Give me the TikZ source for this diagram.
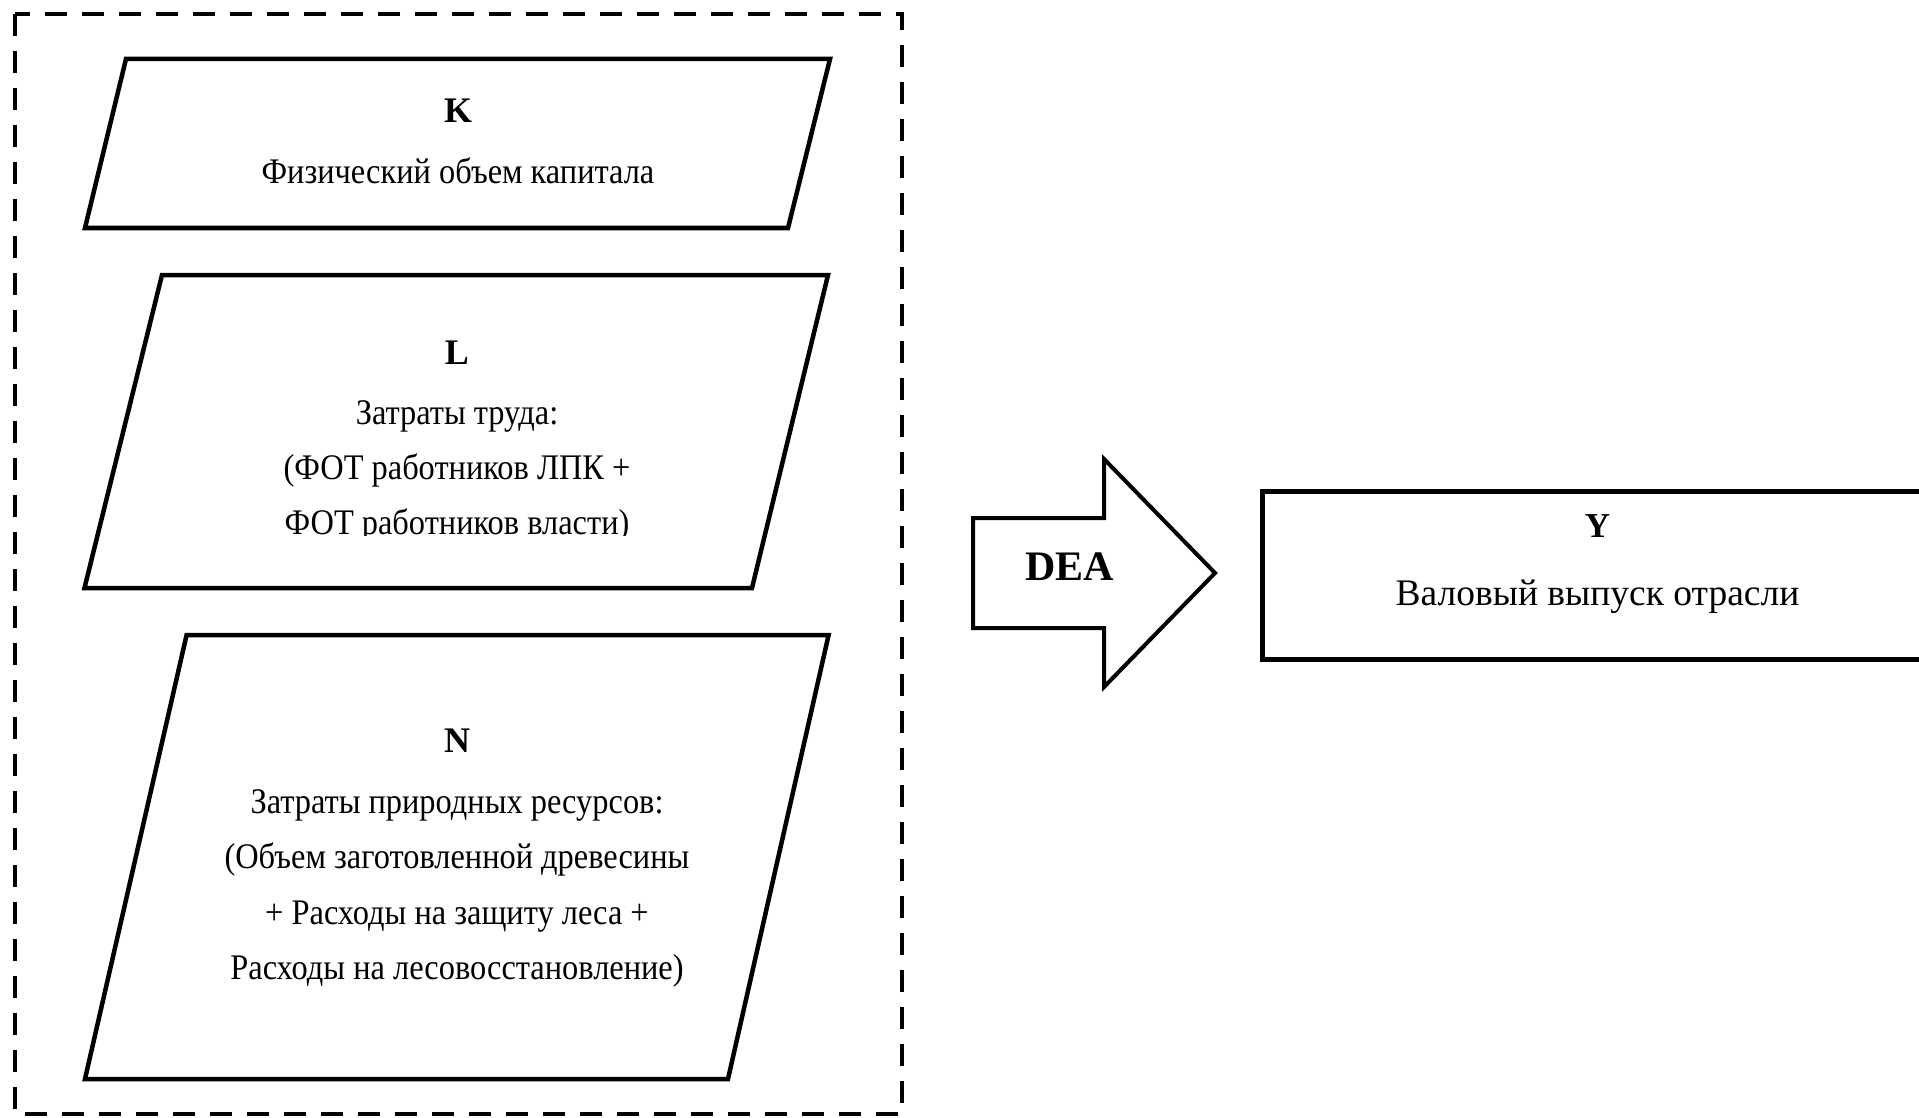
\documentclass[tikz,border=0pt]{standalone}
\usepackage{fontspec}
\setmainfont{Liberation Serif}
\newfontfamily\bodyfont[FakeStretch=0.9]{Liberation Serif}
\tikzset{
  shapeline/.style={line width=4.5pt, line join=miter, draw=black},
  groupline/.style={line width=4pt, draw=black, dash pattern=on 22pt off 15pt},
  lbl/.style={anchor=base, inner sep=0pt, font=\fontsize{36}{40}\selectfont\bfseries},
  txt/.style={anchor=base, inner sep=0pt, font=\bodyfont\fontsize{36}{40}\selectfont},
  ytxt/.style={anchor=base, inner sep=0pt, font=\fontsize{37.5}{40}\selectfont},
  dea/.style={anchor=base, inner sep=0pt, font=\fontsize{42}{44}\selectfont\bfseries},
}
\begin{document}
\begin{tikzpicture}[x=1pt,y=-1pt]
\clip (0,0) rectangle (1919,1118);
\fill[white] (0,0) rectangle (1919,1118);

% dashed group frame
\draw[groupline] (15,14) rectangle (902,1114);

% K parallelogram
\draw[shapeline] (126,59) -- (830,59) -- (788,228) -- (85,228) -- cycle;
\node[lbl] (k) at (458,122.5) {K};
\node[txt] (ktxt) at (458,184) {Физический объем капитала};

% L parallelogram
\draw[shapeline] (162,275) -- (828,275) -- (752,588) -- (84.5,588) -- cycle;
\node[lbl] (l) at (457,364) {L};
\node[txt] (l1) at (457,424.5) {Затраты труда:};
\node[txt] (l2) at (457,479.5) {(ФОТ работников ЛПК +};
\begin{scope}
  \clip (200,480) rectangle (750,535);
  \node[txt] (l3) at (457,534) {ФОТ работников власти)};
\end{scope}

% N parallelogram
\draw[shapeline] (186.6,635) -- (828.6,635) -- (728,1079) -- (85,1079) -- cycle;
\node[lbl] (n) at (457,752) {N};
\node[txt] (n1) at (457,813) {Затраты природных ресурсов:};
\node[txt] (n2) at (457,868.5) {(Объем заготовленной древесины};
\node[txt] (n3) at (457,924) {+ Расходы на защиту леса +};
\node[txt] (n4) at (457,979) {Расходы на лесовосстановление)};

% block arrow
\draw[line width=4pt, line join=miter] (973,518) -- (1104,518) -- (1104,459) -- (1215,573) -- (1104,687) -- (1104,628) -- (973,628) -- cycle;
\node[dea] (dea) at (1069.5,580) {DEA};

% Y box
\draw[shapeline, line width=5pt] (1940,491.7) -- (1262,491.7) -- (1262,659) -- (1940,659);
\node[lbl, font=\fontsize{35}{40}\selectfont\bfseries] (y) at (1597.5,537.5) {Y};
\node[ytxt] (ytxt) at (1597.5,605) {Валовый выпуск отрасли};
\end{tikzpicture}
\end{document}
